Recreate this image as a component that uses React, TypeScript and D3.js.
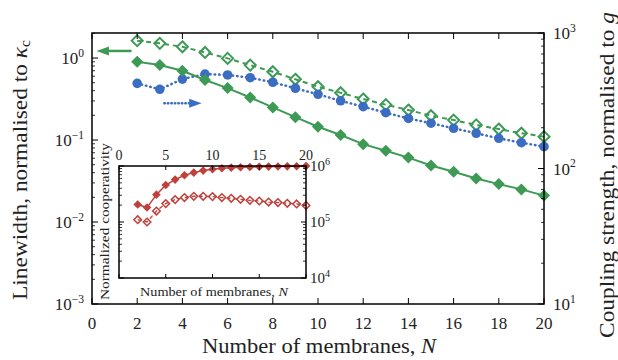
import React from 'react';
import * as d3 from 'd3';

// number of membranes
const membranes = [2, 3, 4, 5, 6, 7, 8, 9, 10, 11, 12, 13, 14, 15, 16, 17, 18, 19, 20];

// main plot, left axis (linewidth / kappa_c)
const linewidthFilled = [0.9, 0.82, 0.7, 0.54, 0.43, 0.33, 0.25, 0.19, 0.145, 0.115, 0.089, 0.074, 0.061, 0.049, 0.041, 0.034, 0.029, 0.025, 0.021];
const linewidthOpen = [1.63, 1.51, 1.37, 1.17, 0.99, 0.82, 0.68, 0.55, 0.447, 0.377, 0.316, 0.27, 0.232, 0.198, 0.175, 0.153, 0.136, 0.121, 0.11];
// main plot, right axis (coupling / g)
const coupling = [425, 384, 457, 498, 490, 468, 433, 391, 353, 316, 286, 258, 234, 216, 198, 182, 167, 155, 145];

// inset (normalized cooperativity)
const coopFilled = [205000, 181000, 308000, 457000, 572000, 682000, 762000, 828000, 874000, 910000, 935000, 950000, 960000, 970000, 975000, 980000, 985000, 990000, 995000];
const coopOpen = [110000, 100000, 157000, 213000, 251000, 273000, 288000, 288000, 284000, 273000, 265000, 254000, 244000, 237000, 227000, 222000, 216000, 210000, 198000];

const xTicks = [0, 2, 4, 6, 8, 10, 12, 14, 16, 18, 20];
const leftTicks = [-3, -2, -1, 0];
const rightTicks = [1, 2, 3];
const insetXTicks = [0, 5, 10, 15, 20];
const insetTicks = [4, 5, 6];

const GREEN = '#3d9a54';
const BLUE = '#3b6ec2';
const RED = '#c0403b';
const TXT = { fontFamily: "'Liberation Serif'", fill: '#222' };

const x = d3.scaleLinear().domain([0, 20]).range([92, 544]);
const yL = d3.scaleLog().domain([1e-3, 2.02]).range([304, 33]);
const yR = d3.scaleLog().domain([10, 1000]).range([304, 33]);
const xi = d3.scaleLinear().domain([0, 20]).range([119, 306]);
const yi = d3.scaleLog().domain([1e4, 1e6]).range([278, 166]);

const minorLog = (lo: number, hi: number) => {
  const out: number[] = [];
  for (let e = lo; e < hi; e++) for (let m = 2; m <= 9; m++) out.push(m * Math.pow(10, e));
  return out;
};

const Pow = ({ x, y, exp, anchor = 'start', size = 17 }: any) => (
  <text x={x} y={y} textAnchor={anchor} fontSize={size} style={TXT}>
    10<tspan dy={-size * 0.42} fontSize={size * 0.68}>{exp < 0 ? `\u2212${-exp}` : exp}</tspan>
  </text>
);

const diamond = (cx: number, cy: number, r: number) =>
  `M${cx},${cy - r}L${cx + r},${cy}L${cx},${cy + r}L${cx - r},${cy}Z`;

export default function App() {
  const lineL = d3.line<number>().x((_, i) => x(membranes[i])).y((d) => yL(d));
  const lineR = d3.line<number>().x((_, i) => x(membranes[i])).y((d) => yR(d));
  const lineI = d3.line<number>().x((_, i) => xi(membranes[i])).y((d) => yi(d));

  const arrowY1 = yL(1.22);
  const arrowY2 = yL(0.28);

  return (
    <svg width={618} height={360} style={{ position: 'absolute', left: 0, top: 0, background: '#fff', fontFamily: "'Liberation Serif'" }}>
      {/* main data */}
      <path d={lineL(linewidthOpen) || ''} fill="none" stroke={GREEN} strokeWidth={2} strokeDasharray="5,4" />
      <path d={lineR(coupling) || ''} fill="none" stroke={BLUE} strokeWidth={2.5} strokeDasharray="0.5,4" strokeLinecap="round" />
      <path d={lineL(linewidthFilled) || ''} fill="none" stroke={GREEN} strokeWidth={2} />
      {linewidthOpen.map((v, i) => (
        <path key={'o' + i} d={diamond(x(membranes[i]), yL(v), 5.5)} fill="none" stroke={GREEN} strokeWidth={2} />
      ))}
      {coupling.map((v, i) => (
        <circle key={'b' + i} cx={x(membranes[i])} cy={yR(v)} r={4.8} fill={BLUE} />
      ))}
      {linewidthFilled.map((v, i) => (
        <path key={'f' + i} d={diamond(x(membranes[i]), yL(v), 6)} fill={GREEN} />
      ))}

      {/* arrows */}
      <line x1={x(1.75)} x2={x(0.62)} y1={arrowY1} y2={arrowY1} stroke={GREEN} strokeWidth={2.5} />
      <path d={`M${x(0.2)},${arrowY1}L${x(0.75)},${arrowY1 - 4.5}L${x(0.75)},${arrowY1 + 4.5}Z`} fill={GREEN} />
      <line x1={x(3.2)} x2={x(4.4)} y1={arrowY2} y2={arrowY2} stroke={BLUE} strokeWidth={2.5} strokeDasharray="0.5,3" strokeLinecap="round" />
      <path d={`M${x(4.85)},${arrowY2}L${x(4.3)},${arrowY2 - 4.5}L${x(4.3)},${arrowY2 + 4.5}Z`} fill={BLUE} />

      {/* main frame and ticks */}
      <rect x={92} y={33} width={452} height={271} fill="none" stroke="#000" strokeWidth={1.5} />
      {xTicks.map((t) => (
        <g key={'xt' + t}>
          <line x1={x(t)} x2={x(t)} y1={304} y2={298} stroke="#000" strokeWidth={1} />
          <line x1={x(t)} x2={x(t)} y1={33} y2={39} stroke="#000" strokeWidth={1} />
          <text x={x(t)} y={329} textAnchor="middle" fontSize={17} style={TXT}>{t}</text>
        </g>
      ))}
      {leftTicks.map((e) => (
        <g key={'lt' + e}>
          <line x1={92} x2={98} y1={yL(Math.pow(10, e))} y2={yL(Math.pow(10, e))} stroke="#000" />
          <Pow x={84} y={yL(Math.pow(10, e)) + 6} exp={e} anchor="end" />
        </g>
      ))}
      {minorLog(-3, 1).filter((v) => v <= 2.02).map((v, i) => (
        <line key={'lm' + i} x1={92} x2={95} y1={yL(v)} y2={yL(v)} stroke="#000" strokeWidth={0.8} />
      ))}
      {rightTicks.map((e) => (
        <g key={'rt' + e}>
          <line x1={544} x2={538} y1={yR(Math.pow(10, e))} y2={yR(Math.pow(10, e))} stroke="#000" />
          <Pow x={553} y={yR(Math.pow(10, e)) + 6} exp={e} />
        </g>
      ))}
      {minorLog(1, 3).map((v, i) => (
        <line key={'rm' + i} x1={544} x2={541} y1={yR(v)} y2={yR(v)} stroke="#000" strokeWidth={0.8} />
      ))}

      {/* axis titles */}
      <text x={202} y={353} fontSize={21} style={TXT} textLength={234} lengthAdjust="spacingAndGlyphs">
        Number of membranes, <tspan fontStyle="italic">N</tspan>
      </text>
      <text transform="translate(27,300) rotate(-90)" fontSize={21} style={TXT} textLength={260} lengthAdjust="spacingAndGlyphs">
        Linewidth, normalised to <tspan fontStyle="italic">κ</tspan><tspan fontSize={14} dy={3}>c</tspan>
      </text>
      <text transform="translate(614,338) rotate(-90)" fontSize={21} style={TXT} textLength={326} lengthAdjust="spacingAndGlyphs">
        Coupling strength, normalised to <tspan fontStyle="italic">g</tspan>
      </text>

      {/* inset */}
      <rect x={119} y={166} width={187} height={112} fill="#fff" stroke="none" />
      <path d={lineI(coopOpen) || ''} fill="none" stroke={RED} strokeWidth={1.3} strokeDasharray="4,3" />
      <path d={lineI(coopFilled) || ''} fill="none" stroke={RED} strokeWidth={1.5} />
      {coopOpen.map((v, i) => (
        <path key={'io' + i} d={diamond(xi(membranes[i]), yi(v), 3.8)} fill="none" stroke={RED} strokeWidth={1.5} />
      ))}
      {coopFilled.map((v, i) => (
        <path key={'if' + i} d={diamond(xi(membranes[i]), yi(v), 4.3)} fill={RED} />
      ))}
      <rect x={119} y={166} width={187} height={112} fill="none" stroke="#000" strokeWidth={1.5} />
      {insetXTicks.map((t) => (
        <g key={'ixt' + t}>
          <line x1={xi(t)} x2={xi(t)} y1={166} y2={170} stroke="#000" />
          <line x1={xi(t)} x2={xi(t)} y1={278} y2={274} stroke="#000" />
          <text x={xi(t)} y={160} textAnchor="middle" fontSize={14} style={TXT}>{t}</text>
        </g>
      ))}
      {insetTicks.map((e) => (
        <g key={'it' + e}>
          <line x1={119} x2={124} y1={yi(Math.pow(10, e))} y2={yi(Math.pow(10, e))} stroke="#000" />
          <line x1={306} x2={301} y1={yi(Math.pow(10, e))} y2={yi(Math.pow(10, e))} stroke="#000" />
          <Pow x={310} y={yi(Math.pow(10, e)) + 5} exp={e} size={15} />
        </g>
      ))}
      {minorLog(4, 6).map((v, i) => (
        <g key={'im' + i}>
          <line x1={119} x2={122} y1={yi(v)} y2={yi(v)} stroke="#000" strokeWidth={0.8} />
          <line x1={306} x2={303} y1={yi(v)} y2={yi(v)} stroke="#000" strokeWidth={0.8} />
        </g>
      ))}
      <text x={140} y={296} fontSize={13} style={TXT} textLength={148} lengthAdjust="spacingAndGlyphs">
        Number of membranes, <tspan fontStyle="italic">N</tspan>
      </text>
      <text transform="translate(109,300) rotate(-90)" fontSize={13} style={TXT} textLength={157} lengthAdjust="spacingAndGlyphs">
        Normalized cooperativity
      </text>
    </svg>
  );
}
